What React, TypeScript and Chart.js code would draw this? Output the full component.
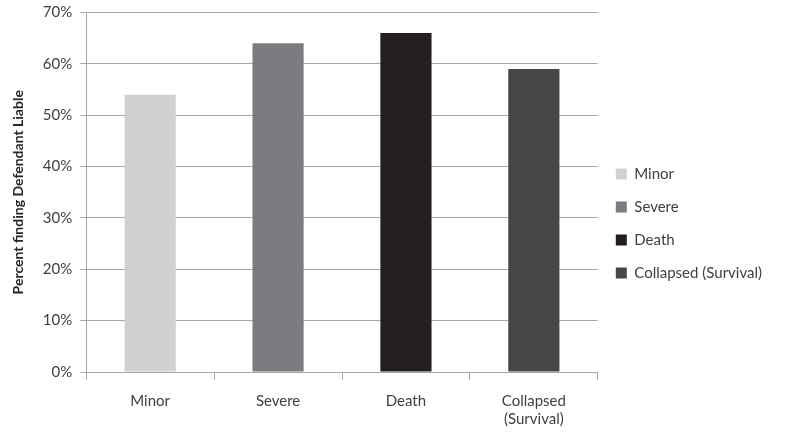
import React, { useEffect, useRef } from "react";
import { Chart, registerables } from "chart.js";

Chart.register(...registerables);

const categories: (string | string[])[] = ["Minor", "Severe", "Death", ["Collapsed", "(Survival)"]];
const legendLabels = ["Minor", "Severe", "Death", "Collapsed (Survival)"];
const values = [54, 64, 66, 59];
const colors = ["#d0d1d3", "#7b7c80", "#231f20", "#464749"];
const yTicks = [0, 10, 20, 30, 40, 50, 60, 70];

const FONT = "Lato, 'Open Sans', sans-serif";

export default function App() {
  const ref = useRef<HTMLCanvasElement | null>(null);
  useEffect(() => {
    document.body.style.margin = "0";
    const ctx = ref.current!;
    const chart = new Chart(ctx, {
      type: "bar",
      data: {
        labels: categories as any,
        datasets: [
          {
            data: values,
            backgroundColor: colors,
            borderWidth: 0,
            barPercentage: 0.4,
            categoryPercentage: 1,
          },
        ],
      },
      options: {
        animation: false,
        responsive: false,
        layout: { padding: { top: 7, left: 10, right: 26, bottom: -7 } },
        plugins: {
          tooltip: { enabled: false },
          legend: {
            position: "right",
            align: "center",
            labels: {
              font: { family: FONT, size: 15 },
              color: "#404040",
              boxWidth: 11,
              boxHeight: 11,
              padding: 18,
              generateLabels: () =>
                legendLabels.map((t, i) => ({
                  text: t,
                  fillStyle: colors[i],
                  strokeStyle: colors[i],
                  lineWidth: 0,
                  hidden: false,
                  index: i,
                  fontColor: "#404040",
                })),
            },
          },
        },
        scales: {
          x: {
            grid: {
              display: true,
              drawOnChartArea: false,
              offset: true,
              tickLength: 8,
              color: "#a6a6a6",
            },
            border: { color: "#a6a6a6" },
            ticks: {
              font: { family: FONT, size: 15 },
              color: "#404040",
              padding: 12,
              maxRotation: 0,
            },
          },
          y: {
            min: 0,
            max: 70,
            afterBuildTicks: (axis: any) => {
              axis.ticks = yTicks.map((v) => ({ value: v }));
            },
            grid: { color: "#a6a6a6", tickLength: 6 },
            border: { color: "#a6a6a6" },
            ticks: {
              font: { family: FONT, size: 15, lineHeight: 0.6 },
              color: "#404040",
              padding: 8,
              callback: (v: any) => v + "%",
            },
            title: {
              display: true,
              text: "Percent finding Defendant Liable",
              font: { family: FONT, size: 14, weight: "bold" },
              color: "#262626",
              padding: { top: 0, bottom: 8 },
            },
          },
        },
      },
    });
    return () => chart.destroy();
  }, []);
  return (
    <div style={{ width: 798, height: 433, background: "#fff" }}>
      <canvas ref={ref} width={798} height={433} style={{ display: "block" }} />
    </div>
  );
}
